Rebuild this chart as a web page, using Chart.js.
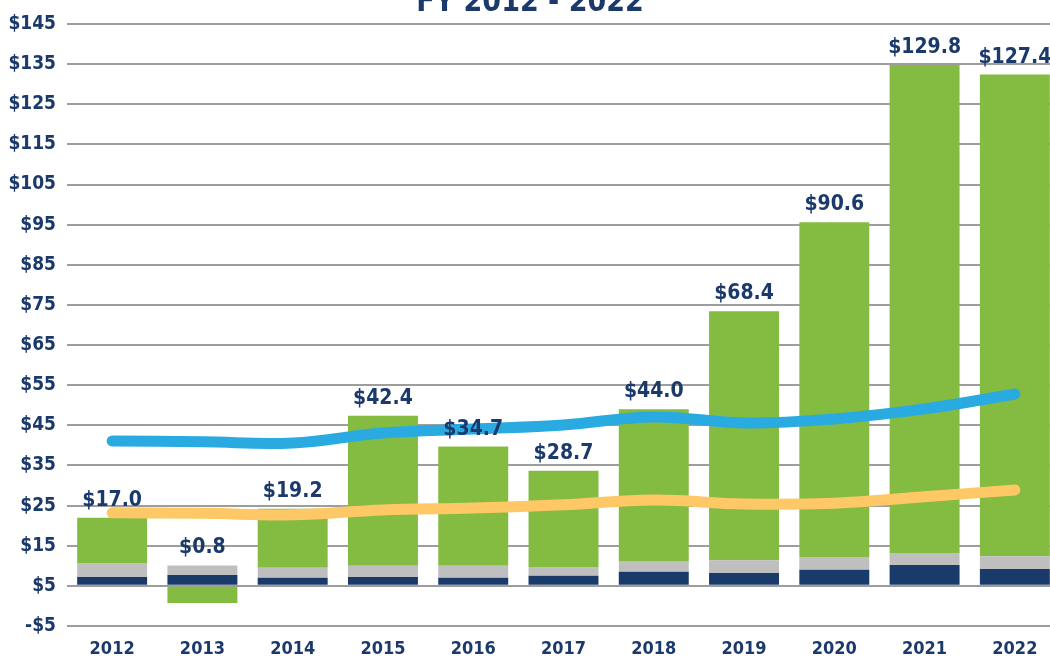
<!DOCTYPE html>
<html>
<head>
<meta charset="utf-8">
<script src="https://cdn.jsdelivr.net/npm/chart.js@4.4.0/dist/chart.umd.min.js"></script>
<style>
  html, body { margin: 0; padding: 0; background: #fff; overflow: hidden; }
  #wrap { position: absolute; left: 0; top: 0; width: 1060px; height: 658px; }
</style>
</head>
<body>
<div id="wrap"><canvas id="chart"></canvas></div>
<script>
const years = ['2012', '2013', '2014', '2015', '2016', '2017', '2018', '2019', '2020', '2021', '2022'];

// stacked bar segments (bottom to top)
const navyValues = [2.2, 2.7, 2.0, 2.2, 2.0, 2.5, 3.5, 3.2, 4.0, 5.2, 4.2];
const grayValues = [3.5, 2.4, 2.5, 2.8, 3.0, 2.2, 2.7, 3.2, 3.2, 3.0, 3.2];
const greenValues = [11.3, -4.3, 14.7, 37.4, 29.7, 24.0, 37.8, 62.0, 83.4, 121.6, 120.0];
const totalLabels = ['$17.0', '$0.8', '$19.2', '$42.4', '$34.7', '$28.7', '$44.0', '$68.4', '$90.6', '$129.8', '$127.4'];

// trend lines
const blueValues = [36.1, 35.9, 35.6, 38.1, 39.1, 40.1, 42.1, 40.6, 41.6, 44.1, 47.8];
const yellowValues = [18.2, 18.1, 17.7, 18.9, 19.4, 20.2, 21.4, 20.4, 20.6, 22.2, 23.9];

// y axis labels as printed on the chart (-10 .. 140 step 10)
const yTickLabels = ['-$5', '$5', '$15', '$25', '$35', '$45', '$55', '$65', '$75', '$85', '$95', '$105', '$115', '$125', '$135', '$145'];

const titleText = 'FY 2012 - 2022';
const navy = '#1b3a6b';
const fontFamily = "'DejaVu Sans Condensed', 'DejaVu Sans', sans-serif";

// draws the total above each bar and the clipped title
const labelPlugin = {
    id: 'labelPlugin',
    afterDatasetsDraw(chart) {
        const ctx = chart.ctx;
        const yScale = chart.scales.y;
        const meta = chart.getDatasetMeta(2);
        ctx.save();
        ctx.fillStyle = navy;
        ctx.font = 'bold 21px ' + fontFamily;
        ctx.textAlign = 'center';
        ctx.textBaseline = 'alphabetic';
        years.forEach((year, i) => {
            // top of the positive part of the stack
            let top = 0;
            [navyValues[i], grayValues[i], greenValues[i]].forEach(v => { if (v > 0) top += v; });
            const x = meta.data[i].x;
            const y = yScale.getPixelForValue(top) - 12;
            ctx.fillText(totalLabels[i], x, y);
        });
        ctx.font = 'bold 30px ' + fontFamily;
        ctx.fillText(titleText, chart.width / 2, 11);
        ctx.restore();
    }
};

const ctx = document.getElementById('chart').getContext('2d');
const chart = new Chart(ctx, {
    data: {
        labels: years,
        datasets: [
            {
                type: 'line',
                data: blueValues,
                borderColor: '#29abe2',
                borderWidth: 11,
                borderCapStyle: 'round',
                tension: 0.4,
                pointRadius: 0,
                fill: false,
                stack: 'blue',
                order: 0
            },
            {
                type: 'line',
                data: yellowValues,
                borderColor: '#fdc865',
                borderWidth: 11,
                borderCapStyle: 'round',
                tension: 0.4,
                pointRadius: 0,
                fill: false,
                stack: 'yellow',
                order: 0
            },
            {
                type: 'bar',
                data: navyValues,
                backgroundColor: '#1a3a6a',
                stack: 'bars',
                order: 1
            },
            {
                type: 'bar',
                data: grayValues,
                backgroundColor: '#bfbfbf',
                stack: 'bars',
                order: 1
            },
            {
                type: 'bar',
                data: greenValues,
                backgroundColor: '#84bb41',
                stack: 'bars',
                order: 1
            }
        ]
    },
    options: {
        responsive: true,
        maintainAspectRatio: false,
        animation: false,
        datasets: {
            bar: { categoryPercentage: 1, barPercentage: 0.775 }
        },
        layout: { padding: { top: 24, left: 0, right: 0, bottom: 0 } },
        plugins: {
            legend: { display: false },
            tooltip: { enabled: false },
            title: { display: false }
        },
        scales: {
            x: {
                stacked: true,
                grid: { display: false },
                border: { display: false },
                ticks: {
                    color: navy,
                    font: { family: fontFamily, size: 18, weight: 'bold' },
                    padding: 5,
                    maxRotation: 0
                },
                afterFit(scale) { scale.height = 32; }
            },
            y: {
                stacked: true,
                min: -10,
                max: 140,
                grid: { color: '#9d9d9d', lineWidth: 2, drawTicks: false },
                border: { display: false },
                ticks: {
                    stepSize: 10,
                    color: navy,
                    font: { family: fontFamily, size: 19, weight: 'bold' },
                    padding: 11,
                    callback: (value, index) => yTickLabels[index]
                },
                afterFit(scale) { scale.width = 67; }
            }
        }
    },
    plugins: [labelPlugin]
});
</script>
</body>
</html>
